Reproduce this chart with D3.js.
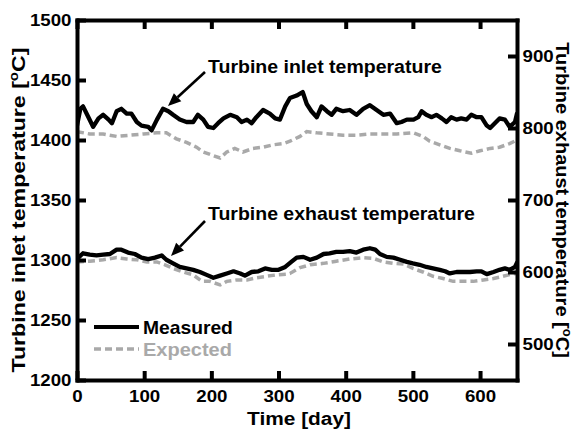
<!DOCTYPE html>
<html><head><meta charset="utf-8">
<script src="https://cdn.jsdelivr.net/npm/d3@7"></script>
<style>
body{margin:0;background:#fff}
svg{display:block}
text{font-family:"Liberation Sans",Arial,sans-serif;font-weight:bold}
</style></head><body>
<svg id="c" width="576" height="436"></svg>
<script>
// ---- data (days, values) ----
const inletMeasuredDays=[0,5,9,17,24,32,39,47,52,59,66,74,81,89,96,106,111,119,128,136,143,153,163,173,180,188,195,203,210,218,228,238,245,253,260,267,277,287,295,302,310,317,327,336,342,349,357,364,372,379,386,396,406,416,426,436,446,456,466,476,483,491,501,508,513,520,528,535,543,550,557,565,572,580,587,595,602,610,615,622,629,637,644,652,655];
const inletMeasured=[1412,1426,1428,1419,1411,1418,1421,1417,1414,1424,1426,1422,1422,1415,1412,1411,1408,1417,1426,1424,1421,1417,1415,1415,1421,1417,1411,1410,1414,1418,1421,1419,1415,1417,1414,1419,1425,1422,1418,1417,1428,1435,1437,1440,1430,1424,1419,1428,1424,1421,1426,1424,1425,1421,1426,1429,1425,1421,1422,1414,1415,1417,1417,1419,1424,1421,1419,1421,1418,1415,1419,1417,1418,1417,1421,1419,1419,1412,1410,1414,1418,1417,1411,1415,1422];
const inletExpectedDays=[0,19,39,59,79,99,119,133,148,163,178,188,203,213,223,235,247,262,277,292,307,317,332,342,357,376,396,416,436,456,476,501,515,525,540,555,570,587,600,615,629,644,655];
const inletExpected=[1407,1405,1405,1403,1404,1405,1406,1406,1401,1398,1394,1390,1387,1385,1390,1393,1390,1393,1394,1396,1397,1399,1403,1407,1406,1405,1404,1404,1405,1405,1405,1406,1403,1399,1396,1393,1391,1389,1391,1393,1394,1397,1400];
const exhaustMeasuredDays=[0,9,19,29,39,49,59,66,76,86,96,106,116,126,133,143,153,163,173,183,193,203,213,223,233,243,250,260,270,280,290,300,310,319,327,337,347,357,367,376,386,396,406,416,426,436,444,451,461,471,481,491,500,510,520,530,540,548,555,565,575,585,595,602,610,620,629,637,644,652,655];
const exhaustMeasured=[618,626,624,623,624,625,631,631,627,625,620,618,620,623,617,612,607,605,603,600,596,592,595,598,601,598,595,600,601,605,603,603,607,614,620,621,617,620,625,626,628,628,629,627,631,633,631,625,621,620,617,614,612,610,607,605,603,601,598,600,600,600,601,601,597,600,603,605,603,607,613];
const exhaustExpectedDays=[0,19,39,59,74,89,104,119,131,143,158,173,186,198,213,223,238,253,267,282,297,312,317,332,347,367,386,406,426,441,456,471,486,500,515,530,545,560,575,590,605,620,634,647,655];
const exhaustExpected=[614,615,617,620,618,617,614,614,610,605,600,596,587,587,582,587,589,589,592,594,596,597,598,606,610,612,615,618,620,619,614,612,611,605,600,594,591,587,587,587,589,591,594,597,598];
const xTicks=[0,100,200,300,400,500,600];
const leftTicks=[1200,1250,1300,1350,1400,1450,1500];
const rightTicks=[500,600,700,800,900];
const seriesNames=["Measured","Expected"];

// ---- layout ----
const L=77,R=517,T=20,B=380;
const x=d3.scaleLinear([0,655],[L,R]);
const yL=d3.scaleLinear([1200,1500],[B,T]);
const yR=d3.scaleLinear([450,950],[B,T]);
const GRAY="#a9a9a9";
const FONT='"Liberation Sans",Arial,sans-serif';
const fmt=d3.format('d');

const svg=d3.select('#c');
svg.append('defs').append('clipPath').attr('id','clip')
  .append('rect').attr('x',L).attr('y',T).attr('width',R-L).attr('height',B-T);
const plot=svg.append('g').attr('clip-path','url(#clip)');

function path(days,vals,ys){
  return d3.line().x((d,i)=>x(days[i])).y(d=>ys(d))(vals);
}
function drawExpected(days,vals,ys){
  plot.append('path').attr('d',path(days,vals,ys)).attr('fill','none')
    .attr('stroke',GRAY).attr('stroke-width',3.5).attr('stroke-dasharray','7,4');
}
function drawMeasured(days,vals,ys){
  plot.append('path').attr('d',path(days,vals,ys)).attr('fill','none')
    .attr('stroke','#000').attr('stroke-width',4.3).attr('stroke-linejoin','round').attr('stroke-linecap','round');
}
drawExpected(inletExpectedDays,inletExpected,yL);
drawExpected(exhaustExpectedDays,exhaustExpected,yR);
drawMeasured(inletMeasuredDays,inletMeasured,yL);
drawMeasured(exhaustMeasuredDays,exhaustMeasured,yR);

// ---- axes ----
function styleAxis(g){
  g.attr('font-family',FONT).attr('font-size',17).attr('font-weight','bold');
  g.select('.domain').attr('stroke','#000').attr('stroke-width',4).attr('stroke-linecap','square');
  g.selectAll('.tick line').attr('stroke','#000').attr('stroke-width',4);
  g.selectAll('.tick text').attr('fill','#000').attr('transform','scale(1.1,1)');
}
svg.append('g').attr('transform',`translate(0,${B})`)
  .call(d3.axisBottom(x).tickValues(xTicks).tickFormat(fmt).tickSize(-9).tickSizeOuter(0).tickPadding(10)).call(styleAxis);
svg.append('g').attr('transform',`translate(0,${T})`)
  .call(d3.axisTop(x).tickValues(xTicks).tickSize(-9).tickSizeOuter(0).tickFormat('')).call(styleAxis);
svg.append('g').attr('transform',`translate(${L},0)`)
  .call(d3.axisLeft(yL).tickValues(leftTicks).tickFormat(fmt).tickSize(-9).tickSizeOuter(0).tickPadding(5)).call(styleAxis);
svg.append('g').attr('transform',`translate(${R},0)`)
  .call(d3.axisRight(yR).tickValues(rightTicks).tickFormat(fmt).tickSize(-9).tickSizeOuter(0).tickPadding(5)).call(styleAxis);

// ---- text helpers ----
function stretch(t,target){
  const w=t.node().getBBox().width;
  const k=target/w;
  const base=t.attr('data-base')||'';
  t.attr('transform',base+` scale(${k},1)`);
}
function label(px,py,str,size,anchor,target,fill){
  const t=svg.append('text').attr('x',0).attr('y',0).attr('font-size',size)
    .attr('text-anchor',anchor).attr('fill',fill||'#000').text(str);
  t.attr('data-base',`translate(${px},${py})`);
  stretch(t,target);
  return t;
}
function arrow(x1,y1,x2,y2){
  const dx=x2-x1,dy=y2-y1,len=Math.hypot(dx,dy),ux=dx/len,uy=dy/len;
  const hl=13,hw=5.5,bx=x2-hl*ux,by=y2-hl*uy,nx=-uy,ny=ux;
  svg.append('line').attr('x1',x1).attr('y1',y1).attr('x2',bx).attr('y2',by)
    .attr('stroke','#000').attr('stroke-width',2.6);
  svg.append('path').attr('d',`M${x2},${y2}L${bx+hw*nx},${by+hw*ny}L${bx-hw*nx},${by-hw*ny}Z`).attr('fill','#000');
}

// annotations
label(208,73,"Turbine inlet temperature",18,'start',234);
arrow(205,72,168,106);
label(208,220,"Turbine exhaust temperature",18,'start',267);
arrow(205,221,171,256);

// legend
svg.append('line').attr('x1',94).attr('x2',139).attr('y1',327).attr('y2',327)
  .attr('stroke','#000').attr('stroke-width',4);
svg.append('line').attr('x1',94).attr('x2',139).attr('y1',349).attr('y2',349)
  .attr('stroke',GRAY).attr('stroke-width',3.5).attr('stroke-dasharray','7,4');
label(143,334,seriesNames[0],18,'start',90);
label(143,356,seriesNames[1],18,'start',89,GRAY);

// axis titles
label(299,425,"Time [day]",19,'middle',104);
function rotTitle(px,py,rot,str,target){
  const g=svg.append('g').attr('transform',`translate(${px},${py}) rotate(${rot})`);
  const t=g.append('text').attr('x',0).attr('y',0).attr('font-size',18.5).attr('text-anchor','middle');
  t.append('tspan').text(str+" [");
  t.append('tspan').attr('font-size',12).attr('dy',-7).text("o");
  t.append('tspan').attr('dy',7).text("C]");
  stretch(t,target);
}
rotTitle(25,210,-90,"Turbine inlet temperature",325);
rotTitle(556,200,90,"Turbine exhaust temperature",316);
</script>
</body></html>
